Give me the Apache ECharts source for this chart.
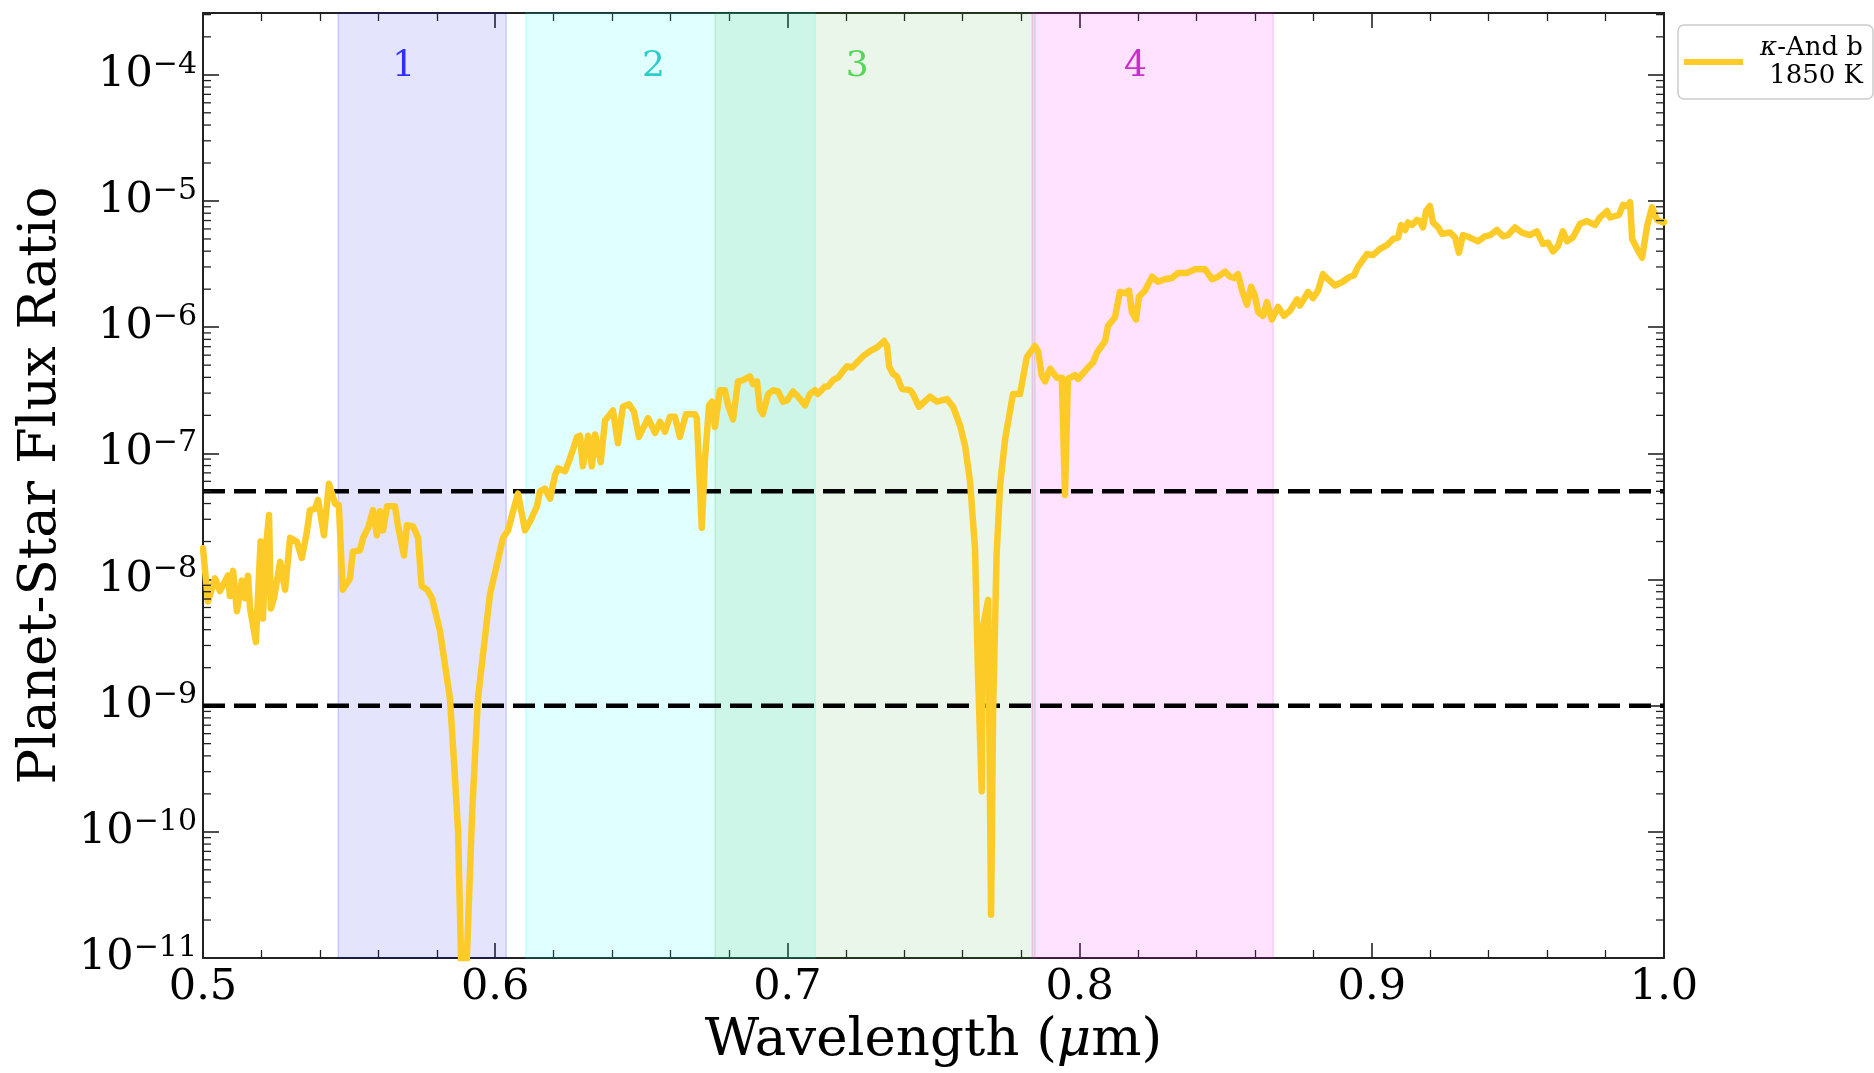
<!DOCTYPE html>
<html><head><meta charset="utf-8">
<script src="https://cdn.jsdelivr.net/npm/echarts@6/dist/echarts.min.js"></script>
<style>html,body{margin:0;padding:0;background:#fff}#chart{width:1874px;height:1073px}</style>
</head><body><div id="chart"></div>
<script>
const wavelength = [
0.5000,0.5017,0.5041,0.5058,0.5086,0.5092,0.5103,0.5116,0.5133,0.5144,0.5154,0.5161,0.5181,0.5197,0.5205,0.5216,0.5226,0.5232,0.5243,0.5264,
0.5281,0.5298,0.5321,0.5338,0.5355,0.5366,0.5383,0.5394,0.5414,0.5431,0.5452,0.5465,0.5478,0.5503,0.5513,0.5537,0.5548,0.5565,0.5582,0.5595,
0.5606,0.5616,0.5630,0.5657,0.5667,0.5688,0.5698,0.5719,0.5736,0.5748,0.5767,0.5784,0.5811,0.5845,0.5862,0.5873,0.5883,0.5890,0.5903,0.5921,
0.5941,0.5982,0.6027,0.6044,0.6061,0.6078,0.6102,0.6119,0.6143,0.6153,0.6170,0.6188,0.6205,0.6215,0.6239,0.6256,0.6280,0.6290,0.6300,0.6318,
0.6331,0.6342,0.6361,0.6376,0.6403,0.6420,0.6437,0.6458,0.6475,0.6492,0.6523,0.6547,0.6564,0.6581,0.6598,0.6615,0.6632,0.6653,0.6684,0.6690,
0.6707,0.6718,0.6732,0.6742,0.6752,0.6769,0.6786,0.6797,0.6814,0.6831,0.6848,0.6872,0.6882,0.6896,0.6906,0.6916,0.6934,0.6951,0.6968,0.6985,
0.6999,0.7019,0.7036,0.7060,0.7077,0.7094,0.7104,0.7129,0.7139,0.7156,0.7173,0.7190,0.7204,0.7221,0.7238,0.7259,0.7283,0.7307,0.7331,0.7341,
0.7348,0.7361,0.7375,0.7392,0.7420,0.7430,0.7450,0.7488,0.7512,0.7546,0.7567,0.7591,0.7608,0.7625,0.7642,0.7652,0.7665,0.7669,0.7687,0.7697,
0.7704,0.7716,0.7728,0.7745,0.7772,0.7796,0.7819,0.7847,0.7858,0.7870,0.7882,0.7899,0.7922,0.7939,0.7950,0.7960,0.7984,0.7995,0.8025,0.8046,
0.8060,0.8087,0.8097,0.8121,0.8138,0.8155,0.8169,0.8179,0.8193,0.8203,0.8224,0.8248,0.8268,0.8292,0.8316,0.8337,0.8368,0.8395,0.8429,0.8453,
0.8474,0.8498,0.8515,0.8528,0.8542,0.8556,0.8573,0.8587,0.8600,0.8611,0.8628,0.8641,0.8658,0.8679,0.8700,0.8720,0.8744,0.8754,0.8782,0.8799,
0.8816,0.8833,0.8850,0.8874,0.8901,0.8925,0.8939,0.8953,0.8984,0.9004,0.9028,0.9052,0.9073,0.9090,0.9100,0.9114,0.9124,0.9138,0.9155,0.9165,
0.9175,0.9186,0.9199,0.9209,0.9227,0.9240,0.9268,0.9285,0.9298,0.9312,0.9336,0.9363,0.9387,0.9405,0.9428,0.9449,0.9466,0.9490,0.9514,0.9541,
0.9565,0.9586,0.9603,0.9620,0.9637,0.9654,0.9668,0.9688,0.9713,0.9736,0.9764,0.9781,0.9805,0.9815,0.9832,0.9846,0.9860,0.9874,0.9884,0.9891,
0.9908,0.9925,0.9942,0.9959,0.9976,0.9997,1.0000
];
const fluxRatio = [
1.77e-8,6.7e-9,1.02e-8,8.1e-9,1.08e-8,7.4e-9,1.17e-8,5.6e-9,9.8e-9,7.1e-9,1.07e-8,5.9e-9,3.2e-9,2.0e-8,4.9e-9,1.86e-8,3.24e-8,5.9e-9,7.1e-9,1.38e-8,
8.3e-9,2.14e-8,2.0e-8,1.48e-8,2.34e-8,3.55e-8,3.63e-8,4.27e-8,2.24e-8,5.75e-8,3.98e-8,3.89e-8,8.3e-9,1.02e-8,1.66e-8,1.70e-8,2.14e-8,2.57e-8,3.55e-8,2.24e-8,
3.47e-8,2.45e-8,3.8e-8,3.8e-8,2.69e-8,1.55e-8,2.69e-8,2.63e-8,2.14e-8,8.9e-9,8.3e-9,7.1e-9,3.9e-9,1.15e-9,2.8e-10,1.0e-10,1.0e-11,4e-12,1.0e-11,1.4e-10,
1.15e-9,7.6e-9,2.14e-8,2.45e-8,3.47e-8,4.8e-8,2.45e-8,2.88e-8,3.8e-8,5.0e-8,5.25e-8,4.37e-8,6.76e-8,7.6e-8,7.2e-8,9.1e-8,1.35e-7,1.38e-7,7.9e-8,1.38e-7,
7.9e-8,1.41e-7,8.5e-8,1.82e-7,2.19e-7,1.2e-7,2.34e-7,2.45e-7,2.14e-7,1.35e-7,1.9e-7,1.45e-7,1.78e-7,1.48e-7,1.95e-7,1.95e-7,1.35e-7,2.04e-7,2.04e-7,1.9e-7,
2.57e-8,9.1e-8,2.4e-7,2.57e-7,1.62e-7,3.16e-7,3.16e-7,2.4e-7,1.86e-7,3.72e-7,3.8e-7,4.07e-7,3.55e-7,3.72e-7,2.24e-7,2.04e-7,2.95e-7,3.16e-7,3.09e-7,2.57e-7,
2.63e-7,3.09e-7,2.82e-7,2.4e-7,2.95e-7,3.16e-7,2.95e-7,3.39e-7,3.39e-7,3.8e-7,3.98e-7,4.47e-7,4.9e-7,4.79e-7,5.25e-7,5.89e-7,6.46e-7,6.92e-7,7.76e-7,7.1e-7,
4.9e-7,4.27e-7,4.07e-7,3.24e-7,3.16e-7,2.95e-7,2.34e-7,2.82e-7,2.57e-7,2.69e-7,2.34e-7,1.66e-7,1.15e-7,6.0e-8,1.78e-8,1.9e-9,2.1e-10,4.2e-9,6.9e-9,2.2e-11,
9.1e-10,1.58e-8,5.6e-8,1.29e-7,2.95e-7,2.95e-7,5.75e-7,7.1e-7,6.46e-7,4.17e-7,3.72e-7,4.68e-7,3.98e-7,3.98e-7,4.68e-8,3.89e-7,4.17e-7,3.89e-7,4.68e-7,5.25e-7,
6.31e-7,7.76e-7,1.02e-6,1.2e-6,1.9e-6,1.86e-6,1.95e-6,1.32e-6,1.15e-6,1.74e-6,1.95e-6,2.51e-6,2.29e-6,2.4e-6,2.45e-6,2.69e-6,2.69e-6,2.88e-6,2.88e-6,2.4e-6,
2.51e-6,2.75e-6,2.51e-6,2.45e-6,2.63e-6,1.95e-6,1.51e-6,2.09e-6,1.78e-6,1.32e-6,1.23e-6,1.58e-6,1.15e-6,1.45e-6,1.23e-6,1.35e-6,1.66e-6,1.48e-6,1.9e-6,1.7e-6,
1.95e-6,2.63e-6,2.4e-6,2.14e-6,2.29e-6,2.51e-6,2.57e-6,3.02e-6,3.8e-6,3.72e-6,4.17e-6,4.47e-6,5.0e-6,5.13e-6,6.46e-6,5.89e-6,6.76e-6,6.46e-6,7.08e-6,6.92e-6,
6.17e-6,8.32e-6,9.12e-6,6.76e-6,6.17e-6,5.5e-6,5.62e-6,5.13e-6,3.89e-6,5.37e-6,5.13e-6,4.79e-6,5.25e-6,5.37e-6,5.89e-6,5.25e-6,5.37e-6,6.17e-6,5.62e-6,5.37e-6,
5.75e-6,4.57e-6,4.68e-6,3.98e-6,4.37e-6,5.75e-6,4.79e-6,5.13e-6,6.61e-6,6.92e-6,6.46e-6,7.41e-6,8.32e-6,7.41e-6,7.59e-6,7.76e-6,9.33e-6,9.12e-6,9.77e-6,5.0e-6,
4.17e-6,3.55e-6,6.31e-6,8.91e-6,7.08e-6,6.76e-6,6.8e-6
];
const seriesName = 'κ-And b 1850 K';
const bandNames = ['1', '2', '3', '4'];
const bandStart = [0.54625, 0.6105, 0.67525, 0.78375];
const bandEnd = [0.60375, 0.7095, 0.78475, 0.86625];
const bandLabelX = [0.5687, 0.6542, 0.7239, 0.8191];
const bandLabelY = [1.16e-4, 1.16e-4, 1.16e-4, 1.16e-4];
const thresholds = [5e-8, 1e-9];
const xRange = [0.5, 1.0];
const yRange = [1e-11, 3.09e-4];

const bandFill = ['rgba(20,20,235,0.115)', 'rgba(0,255,255,0.12)', 'rgba(40,170,40,0.10)', 'rgba(255,0,255,0.115)'];
const bandEdge = ['rgba(0,0,255,0.2)', 'rgba(0,255,255,0.2)', 'rgba(40,170,40,0.2)', 'rgba(255,0,255,0.2)'];
const bandText = ['#0000ff', '#00bfbf', '#32cd32', '#bf00bf'];

const FONT = "'DejaVu Serif', serif";
const AX = '#222';

const minorTickValues = [];
for (let n = -11; n <= -4; n++) {
  for (let k = 2; k <= 9; k++) {
    const v = k * Math.pow(10, n);
    if (v < yRange[1]) minorTickValues.push(v);
  }
}

const curve = wavelength.map((w, i) => [w, fluxRatio[i]]);

function xAxisCfg(pos, showLabel) {
  return {
    type: 'value', position: pos, min: xRange[0], max: xRange[1], interval: 0.1,
    axisLine: { show: true, onZero: false, lineStyle: { color: AX, width: 2 } },
    axisTick: { show: true, inside: true, length: 15, lineStyle: { color: AX, width: 1.6 } },
    minorTick: { show: true, splitNumber: 5, length: 8, lineStyle: { color: AX, width: 1.3 } },
    splitLine: { show: false }, minorSplitLine: { show: false },
    axisLabel: {
      show: showLabel, formatter: v => v.toFixed(1), fontFamily: FONT, fontSize: 43, color: '#000', margin: 8
    }
  };
}
function yAxisCfg(pos, showLabel) {
  return {
    type: 'log', logBase: 10, position: pos, min: yRange[0], max: yRange[1],
    axisLine: { show: true, onZero: false, lineStyle: { color: AX, width: 2 } },
    axisTick: { show: true, inside: true, length: 16, lineStyle: { color: AX, width: 1.6 } },
    splitLine: { show: false },
    axisLabel: {
      show: showLabel, margin: 6,
      formatter: function (v) {
        const e = Math.log10(v);
        const r = Math.round(e);
        if (Math.abs(e - r) > 1e-6) return '';
        return '{b|10}{s|' + (r < 0 ? '\u2212' + (-r) : r) + '}';
      },
      rich: {
        b: { fontFamily: FONT, fontSize: 43, color: '#000', lineHeight: 50 },
        s: { fontFamily: FONT, fontSize: 30, color: '#000', lineHeight: 50, verticalAlign: 'top' }
      }
    }
  };
}

const xa0 = xAxisCfg('bottom', true);
xa0.name = 'Wavelength ({i|\u03bc}m)';
xa0.nameLocation = 'middle';
xa0.nameGap = 57;
xa0.nameTextStyle = {
  fontFamily: FONT, fontSize: 53, color: '#000',
  rich: { i: { fontFamily: FONT, fontSize: 53, fontStyle: 'italic', color: '#000' } }
};
const ya0 = yAxisCfg('left', true);
ya0.name = 'Planet-Star Flux Ratio';
ya0.nameLocation = 'middle';
ya0.nameGap = 131;
ya0.nameTextStyle = { fontFamily: FONT, fontSize: 53, color: '#000' };

const option = {
  animation: false,
  backgroundColor: '#fff',
  grid: { left: 203, top: 13, right: 210, bottom: 112, containLabel: false },
  legend: {
    data: [{ name: seriesName, icon: 'rect' }],
    left: 1678, top: 25, orient: 'vertical',
    itemWidth: 59, itemHeight: 6,
    padding: [9, 10, 9, 6],
    backgroundColor: '#fff', borderColor: '#cccccc', borderWidth: 1.5, borderRadius: 6,
    formatter: () => '{k|\u03ba}{r|-And b}\n{r|1850 K}',
    textStyle: {
      fontFamily: FONT, fontSize: 26, color: '#000', width: 115, lineHeight: 28,
      rich: {
        r: { fontFamily: FONT, fontSize: 26, color: '#000', align: 'right', lineHeight: 28 },
        k: { fontFamily: FONT, fontSize: 26, color: '#000', fontStyle: 'italic', align: 'right', lineHeight: 28 }
      }
    }
  },
  xAxis: [xa0, xAxisCfg('top', false)],
  yAxis: [ya0, yAxisCfg('right', false)],
  series: [
    {
      name: 'bands', type: 'line', data: [], silent: true, z: 1,
      markArea: {
        silent: true,
        data: bandStart.map((s, i) => [
          { xAxis: s, itemStyle: { color: bandFill[i], borderColor: bandEdge[i], borderWidth: 1.2 } },
          { xAxis: bandEnd[i] }
        ])
      }
    },
    ...thresholds.map((t, i) => ({
      name: 'threshold' + i, type: 'line', z: 2, silent: true,
      data: [[xRange[0], t], [xRange[1], t]],
      showSymbol: false, symbol: 'none',
      lineStyle: { color: '#000', width: 4.5, type: [22, 9] }
    })),
    {
      name: seriesName, type: 'line', z: 3, data: curve,
      showSymbol: false, symbol: 'none', clip: true,
      color: '#fdcb27',
      itemStyle: { color: '#fdcb27' },
      lineStyle: { color: '#fdcb27', width: 6.5, join: 'round', cap: 'round' }
    },
    {
      name: 'bandLabels', type: 'scatter', z: 4, silent: true, symbolSize: 1,
      itemStyle: { color: 'rgba(0,0,0,0)' },
      data: bandLabelX.map((x, i) => ({
        name: bandNames[i], value: [x, bandLabelY[i]],
        label: { color: bandText[i] }
      })),
      label: { show: true, position: 'inside', formatter: '{b}', fontFamily: FONT, fontSize: 36 }
    },
    {
      name: 'minorTicks', type: 'custom', z: 5, silent: true, clip: true,
      data: minorTickValues.map(v => [xRange[0], v]),
      encode: { x: 0, y: 1 },
      renderItem: function (params, api) {
        const v = api.value(1);
        const l = api.coord([xRange[0], v]);
        const r = api.coord([xRange[1], v]);
        const st = { stroke: AX, lineWidth: 1.3 };
        return {
          type: 'group',
          children: [
            { type: 'line', shape: { x1: l[0], y1: l[1], x2: l[0] + 8, y2: l[1] }, style: st },
            { type: 'line', shape: { x1: r[0] - 8, y1: r[1], x2: r[0], y2: r[1] }, style: st }
          ]
        };
      }
    }
  ]
};
const chart = echarts.init(document.getElementById('chart'), null, { renderer: 'canvas' });
chart.setOption(option);
</script>
</body></html>
